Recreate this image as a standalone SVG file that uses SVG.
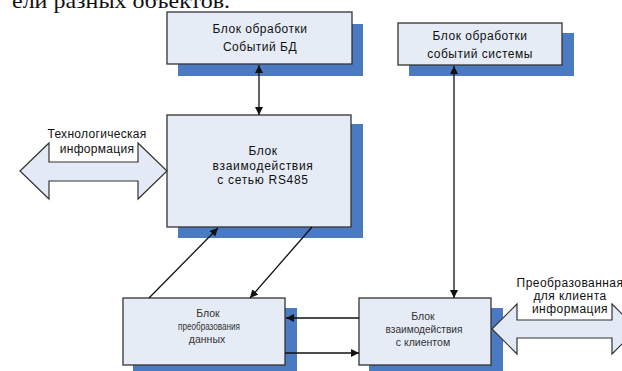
<svg xmlns="http://www.w3.org/2000/svg" width="622" height="371" viewBox="0 0 622 371">
<style>
  .box { fill: #E6ECF6; stroke: #333333; stroke-width: 1.3; }
  .shadow { fill: #4A7BC2; }
  .big { fill: #E3EAF5; stroke: #333333; stroke-width: 1.2; }
  .t { font-family: "Liberation Sans", Arial, sans-serif; font-size: 12px; fill: #111111; text-anchor: middle; }
  .tl { font-family: "Liberation Sans", Arial, sans-serif; font-size: 10.5px; fill: #333333; text-anchor: middle; }
  .c { stroke: #111111; stroke-width: 1.3; fill: none; }
</style>
<defs>
  <marker id="ah" viewBox="0 0 10 10" refX="10" refY="5" markerWidth="8" markerHeight="8" markerUnits="userSpaceOnUse" orient="auto-start-reverse">
    <path d="M0,0 L10,5 L0,10 z" fill="#111111"/>
  </marker>
</defs>
<rect width="622" height="371" fill="#ffffff"/>
<text x="12" y="8" font-family="Liberation Serif, serif" font-size="22" fill="#111111" textLength="218" lengthAdjust="spacingAndGlyphs">ели разных объектов.</text>

<g id="node-db">
  <rect class="shadow" x="178" y="24" width="185" height="52"/>
  <rect class="box" x="167" y="12" width="185" height="52"/>
  <text class="t" x="260" y="33" letter-spacing="0.5">Блок обработки</text>
  <text class="t" x="260" y="51" letter-spacing="0.5">Событий  БД</text>
</g>
<g id="node-sys">
  <rect class="shadow" x="409" y="33" width="165" height="43"/>
  <rect class="box" x="398" y="23" width="164" height="42"/>
  <text class="t" x="480" y="40" letter-spacing="0.5">Блок обработки</text>
  <text class="t" x="480" y="58" letter-spacing="0.5">событий системы</text>
</g>
<g id="node-rs485">
  <rect class="shadow" x="178" y="124" width="185" height="114"/>
  <rect class="box" x="167" y="115" width="184" height="112"/>
  <text class="t" x="263" y="155" font-size="12.5" letter-spacing="0.5">Блок</text>
  <text class="t" x="263" y="170" font-size="12.5" letter-spacing="0.7">взаимодействия</text>
  <text class="t" x="263" y="184" font-size="12.5" letter-spacing="0.7">с сетью RS485</text>
</g>
<g id="node-conv">
  <rect class="shadow" x="133" y="308" width="164" height="70"/>
  <rect class="box" x="123" y="298" width="162" height="67"/>
  <text class="tl" x="208" y="317">Блок</text>
  <text class="tl" x="209" y="330" font-size="10.5" textLength="62" lengthAdjust="spacingAndGlyphs">преобразования</text>
  <text class="tl" x="207" y="343">данных</text>
</g>
<g id="node-client">
  <rect class="shadow" x="369" y="308" width="134" height="70"/>
  <rect class="box" x="359" y="298" width="132" height="67"/>
  <text class="tl" x="423" y="320">Блок</text>
  <text class="tl" x="424" y="333" textLength="77" lengthAdjust="spacingAndGlyphs">взаимодействия</text>
  <text class="tl" x="423" y="346">с клиентом</text>
</g>
<g id="node-tech">
  <polygon class="big" points="20,171 49,143 49,162 138,162 138,143 167,171 138,199 138,181 49,181 49,199"/>
  <text class="t" x="97" y="138" font-size="12.5" letter-spacing="0.3">Технологическая</text>
  <text class="t" x="97" y="153" font-size="12.5" letter-spacing="0.3">информация</text>
</g>
<g id="node-clientinfo">
  <polygon class="big" points="492,329 517,304 517,320 612,320 612,304 637,329 612,354 612,338 517,338 517,354"/>
  <text class="t" x="570" y="286.5" font-size="11" letter-spacing="0.45">Преобразованная</text>
  <text class="t" x="570" y="299.5" font-size="11" letter-spacing="0.45">для клиента</text>
  <text class="t" x="570" y="312.5" font-size="11" letter-spacing="0.45">информация</text>
</g>
<g id="connectors">
  <line class="c" x1="259" y1="65" x2="259" y2="115" marker-start="url(#ah)" marker-end="url(#ah)"/>
  <line class="c" x1="454" y1="66" x2="454" y2="298" marker-start="url(#ah)" marker-end="url(#ah)"/>
  <line class="c" x1="149" y1="298" x2="218" y2="228" marker-end="url(#ah)"/>
  <line class="c" x1="312" y1="227" x2="250" y2="298" marker-end="url(#ah)"/>
  <line class="c" x1="359" y1="318" x2="286" y2="318" marker-end="url(#ah)"/>
  <line class="c" x1="285" y1="353" x2="359" y2="353" marker-end="url(#ah)"/>
</g>
</svg>
